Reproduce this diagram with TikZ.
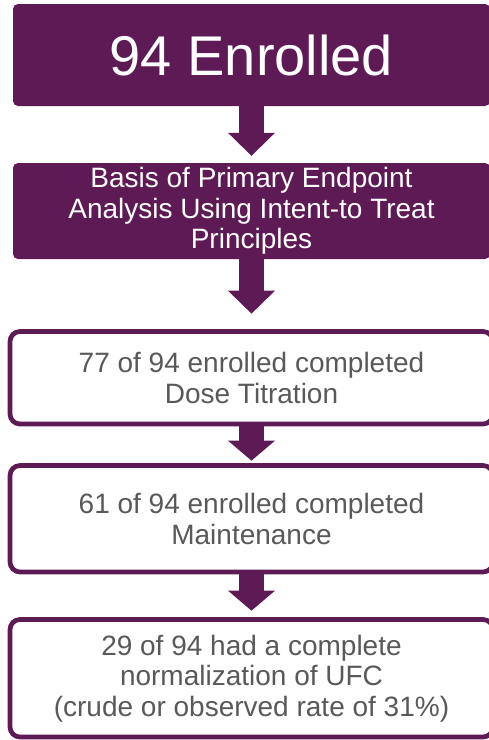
\documentclass[tikz,border=0pt]{standalone}
\usepackage{fontspec}
\setmainfont{Liberation Sans}
\usetikzlibrary{arrows.meta,calc}
\definecolor{plum}{RGB}{94,26,84}
\definecolor{txtgray}{RGB}{89,89,89}
\begin{document}
\begin{tikzpicture}[x=1pt,y=1pt,
  solidbox/.style={rectangle, rounded corners=5pt, fill=plum, text=white,
    minimum width=477pt, inner sep=0pt, align=center,
    font=\fontsize{28}{30.5}\selectfont},
  openbox/.style={rectangle, rounded corners=10pt, draw=plum, line width=4.7pt,
    fill=white, text=txtgray, minimum width=483pt, inner sep=0pt, align=center,
    font=\fontsize{28}{30.5}\selectfont},
  blockarrow/.style={draw=plum, line width=25pt,
    -{Triangle[width=47pt,length=#1,line width=0pt,fill=plum]}}
]
\useasboundingbox (0,0) rectangle (488,-740);
\node[solidbox, minimum height=102pt, font=\fontsize{56}{60}\selectfont] (b1) at (251.5,-55) {94 Enrolled};
\node[solidbox, minimum height=96pt] (b2) at (251.5,-211) {Basis of Primary Endpoint\\Analysis Using Intent-to Treat\\Principles};
\node[openbox, minimum height=92.5pt] (b3) at (251.5,-377.75) {77 of 94 enrolled completed\\Dose Titration};
\node[openbox, minimum height=106.5pt] (b4) at (251.5,-518.75) {61 of 94 enrolled completed\\Maintenance};
\node[openbox, minimum height=117.5pt] (b5) at (251.5,-678.25) {29 of 94 had a complete\\normalization of UFC\\(crude or observed rate of 31\%)};
\draw[blockarrow=23pt, shorten >=7pt] (b1.south) -- (b2.north);
\draw[blockarrow=23pt, shorten >=15.5pt] (b2.south) -- (b3.north);
\draw[blockarrow=20pt, shorten >=2.5pt] (b3.south) -- (b4.north);
\draw[blockarrow=20pt, shorten >=6.5pt] (b4.south) -- (b5.north);
\end{tikzpicture}
\end{document}
